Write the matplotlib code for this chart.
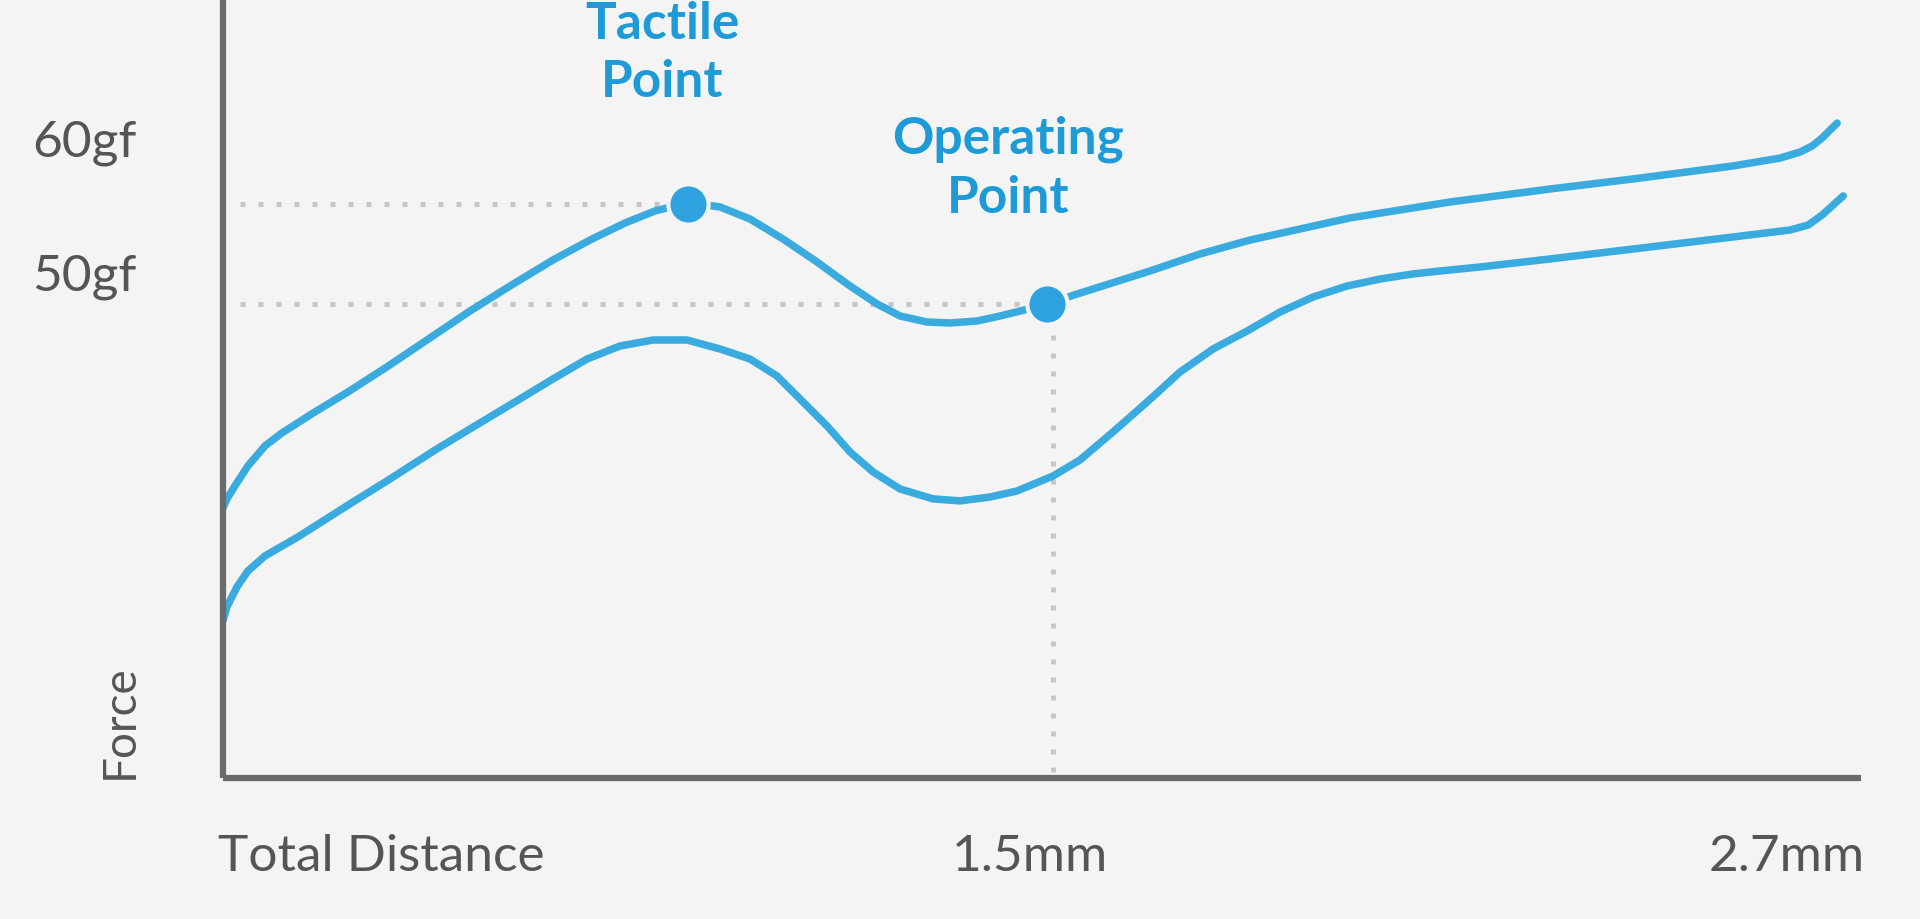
import matplotlib
matplotlib.use("Agg")
import matplotlib.pyplot as plt
import matplotlib.transforms as mtransforms

# ---- data (distance in mm, force in gf) ----
upper_x = [0.0000, 0.0066, 0.0198, 0.0412, 0.0692, 0.0972, 0.1516, 0.2060,
           0.2703, 0.3412, 0.4071, 0.4731, 0.5439, 0.6049, 0.6626, 0.7121, 0.7450, 0.7665,
           0.7945, 0.8192, 0.8686, 0.9230, 0.9791, 1.0335, 1.0780, 1.1159, 1.1604, 1.1983,
           1.2428, 1.2807, 1.3137, 1.3582, 1.4076, 1.5279, 1.6103, 1.6928, 1.8576, 2.0224,
           2.1873, 2.3241, 2.4889, 2.5664, 2.5993, 2.6191, 2.6356, 2.6603]
upper_y = [32.31, 32.99, 33.96, 35.45, 36.94, 37.91, 39.48, 40.97,
           42.84, 45.00, 47.01, 48.88, 50.82, 52.31, 53.58, 54.48, 54.85, 55.00,
           54.93, 54.78, 53.88, 52.39, 50.67, 48.88, 47.54, 46.64, 46.19, 46.12,
           46.27, 46.64, 47.01, 47.54, 48.28, 50.00, 51.27, 52.31, 53.96, 55.15,
           56.12, 56.87, 57.84, 58.43, 58.88, 59.33, 59.93, 61.04]

lower_x = [0.0000, 0.0066, 0.0231, 0.0412, 0.0692, 0.1236, 0.2143, 0.2703, 0.3527, 0.4071,
           0.4895, 0.5439, 0.6000, 0.6544, 0.7088, 0.7648, 0.8192, 0.8686, 0.9131, 0.9510,
           0.9956, 1.0335, 1.0714, 1.1159, 1.1703, 1.2148, 1.2642, 1.3087, 1.3681, 1.4126,
           1.4670, 1.5230, 1.5774, 1.6318, 1.6879, 1.7423, 1.7967, 1.8527, 1.9071, 1.9614,
           2.0059, 2.0719, 2.1873, 2.3241, 2.4889, 2.5828, 2.6125, 2.6356, 2.6702]
lower_y = [23.88, 24.93, 26.42, 27.61, 28.73, 30.15, 32.76, 34.33, 36.72, 38.21,
           40.45, 41.94, 43.43, 44.40, 44.85, 44.85, 44.18, 43.43, 42.16, 40.45,
           38.43, 36.49, 35.00, 33.73, 32.99, 32.84, 33.13, 33.58, 34.70, 35.90,
           37.99, 40.22, 42.46, 44.18, 45.52, 46.94, 48.06, 48.88, 49.40, 49.78,
           50.00, 50.30, 50.90, 51.64, 52.54, 53.06, 53.43, 54.18, 55.60]

tactile_x, tactile_y = 0.7665, 55.00
operating_x, operating_y = 1.3582, 47.54

y_ticks = [50, 60]
y_tick_labels = ["50gf", "60gf"]
x_label_pos = [0.0, 1.33, 2.7]
x_labels = ["Total Distance", "1.5mm", "2.7mm"]

# ---- styles ----
BG = "#f4f4f4"
BLUE_LINE = "#3aabdf"
BLUE_DOT = "#2ea3df"
BLUE_TEXT = "#1e9bd7"
GRAY_TEXT = "#555555"
SPINE = "#6b6b6b"
DOTTED = "#c6c6c6"
FONT = ["Lato", "DejaVu Sans"]

fig = plt.figure(figsize=(19.2, 9.2), dpi=100, facecolor=BG)
ax = fig.add_axes([0.1161, 0.1533, 0.8533, 0.8467])
ax.set_facecolor(BG)
ax.set_xlim(0, 2.7)
ax.set_ylim(12.16, 70.3)

for s in ("top", "right"):
    ax.spines[s].set_visible(False)
for s in ("left", "bottom"):
    ax.spines[s].set_color(SPINE)
    ax.spines[s].set_linewidth(4.5)
    ax.spines[s].set_capstyle("butt")
    ax.spines[s].set_zorder(5)

# dotted guide lines
dot_style = dict(color=DOTTED, lw=3.6, linestyle=(0, (1, 2.6)), zorder=1)
ax.plot([0.028, tactile_x], [tactile_y, tactile_y], **dot_style)
ax.plot([0.028, operating_x], [operating_y, operating_y], **dot_style)
ax.plot([operating_x + 0.01, operating_x + 0.01], [operating_y - 1.0, 12.6], **dot_style)

# curves
for xs, ys in ((upper_x, upper_y), (lower_x, lower_y)):
    ax.plot(xs, ys, color=BLUE_LINE, lw=5.4, solid_capstyle="round",
            solid_joinstyle="round", zorder=3)

# points
ax.plot([tactile_x, operating_x], [tactile_y, operating_y], "o", ms=29,
        color=BLUE_DOT, mec=BG, mew=3, zorder=4)

# annotations
ax.text(0.724, 66.3, "Tactile\nPoint", ha="center", va="center", color=BLUE_TEXT,
        fontsize=37, fontweight="bold", family=FONT, linespacing=1.3)
ax.text(1.294, 57.7, "Operating\nPoint", ha="center", va="center", color=BLUE_TEXT,
        fontsize=37, fontweight="bold", family=FONT, linespacing=1.3)

# y tick labels
ax.set_yticks(y_ticks)
ax.set_yticklabels(y_tick_labels, family=FONT, fontsize=37, color=GRAY_TEXT)
ax.tick_params(axis="y", length=0, pad=62)
ax.set_xticks([])

# Force label
ax.text(-0.0629, 0.0, "Force", transform=ax.transAxes, rotation=90, ha="center",
        va="bottom", family=FONT, fontsize=33, color=GRAY_TEXT)

# x labels
trans = mtransforms.blended_transform_factory(ax.transData, ax.transAxes)
has = ["left", "center", "right"]
offs = [-0.008, 0.0, 0.005]
for xp, lab, ha, o in zip(x_label_pos, x_labels, has, offs):
    ax.text(xp + o, -0.10, lab, transform=trans, ha=ha, va="center",
            family=FONT, fontsize=37, color=GRAY_TEXT)

fig.savefig("out.png", dpi=100, facecolor=BG)
